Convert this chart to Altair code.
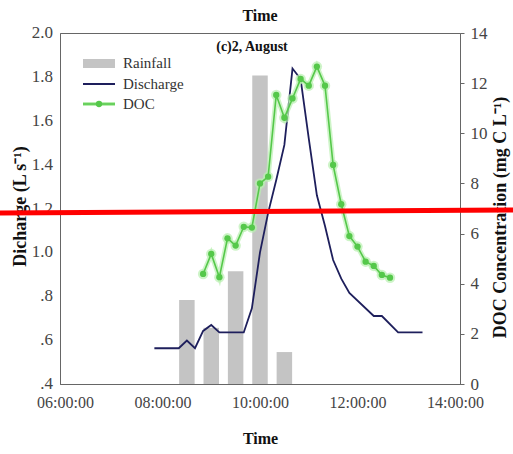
import altair as alt
import pandas as pd

DAY = "2020-08-01T"

# Discharge (L s-1)
q_times = ["07:50", "08:20", "08:30", "08:40", "08:50", "09:00", "09:10", "09:40",
           "09:50", "10:00", "10:10", "10:20", "10:30", "10:40", "10:50", "11:00",
           "11:10", "11:20", "11:30", "11:40", "11:50", "12:20", "12:30", "12:50", "13:20"]
q_vals = [0.563, 0.563, 0.598, 0.563, 0.642, 0.669, 0.635, 0.635,
          0.745, 1.00, 1.18, 1.33, 1.49, 1.838, 1.79, 1.52,
          1.26, 1.12, 0.965, 0.88, 0.815, 0.71, 0.71, 0.635, 0.635]

# DOC concentration (mg C L-1)
doc_times = ["08:50", "09:00", "09:10", "09:20", "09:30", "09:40", "09:50", "10:00",
             "10:10", "10:20", "10:30", "10:40", "10:50", "11:00", "11:10", "11:20",
             "11:30", "11:40", "11:50", "12:00", "12:10", "12:20", "12:30", "12:40"]
doc_vals = [4.39, 5.19, 4.26, 5.81, 5.52, 6.27, 6.24, 8.0,
            8.27, 11.53, 10.62, 11.39, 12.17, 11.9, 12.66, 11.9,
            8.74, 7.17, 5.9, 5.48, 4.88, 4.71, 4.35, 4.24]

# Rainfall (mm, hidden axis)
rain_times = ["08:30", "09:00", "09:30", "10:00", "10:30"]
rain_vals = [2.39, 1.6, 3.21, 8.79, 0.91]

x_tick_hours = [6, 8, 10, 12, 14]
left_ticks = [0.4, 0.6, 0.8, 1.0, 1.2, 1.4, 1.6, 1.8, 2.0]
left_tick_labels = [".4", ".6", ".8", "1.0", "1.2", "1.4", "1.6", "1.8", "2.0"]
right_ticks = [0, 2, 4, 6, 8, 10, 12, 14]
legend_labels = ["Rainfall", "Discharge", "DOC"]
panel_label = "(c)2, August"
x_title = "Time"
left_title = "Dicharge (L s\u207b\u00b9)"
right_title = "DOC Concentration (mg C L\u207b\u00b9)"

FONT = "Liberation Serif"
NAVY = "#1e1f5c"
GREEN = "#55c84a"
HALO = "#b9efb0"
GRAY = "#c4c4c4"

q_df = pd.DataFrame({"t": [DAY + s + ":00" for s in q_times], "q": q_vals})
doc_df = pd.DataFrame({"t": [DAY + s + ":00" for s in doc_times], "doc": doc_vals})
rain_df = pd.DataFrame({"t": [DAY + s + ":00" for s in rain_times], "rain": rain_vals})
ltick_df = pd.DataFrame({"v": left_ticks, "lab": left_tick_labels})

xscale = alt.Scale(domain=[alt.DateTime(year=2020, month=8, date=1, hours=x_tick_hours[0]),
                           alt.DateTime(year=2020, month=8, date=1, hours=x_tick_hours[-1])])
xaxis = alt.Axis(format="%H:%M:%S",
                 values=[alt.DateTime(year=2020, month=8, date=1, hours=h) for h in x_tick_hours],
                 title=x_title, titleFont=FONT, titleFontSize=16, titleFontWeight="bold",
                 titleY=54, titleBaseline="middle", titleColor="#111",
                 labelFont=FONT, labelFontSize=16, labelColor="#444", labelPadding=10,
                 ticks=False, grid=False, domainColor="#666", labelFlush=False)
X = alt.X("t:T", scale=xscale, axis=xaxis)

rain = alt.Chart(rain_df).mark_bar(size=15.5, color=GRAY).encode(
    x=X,
    y=alt.Y("rain:Q", scale=alt.Scale(domain=[0, 10]), axis=None),
)

q_scale = alt.Scale(domain=[left_ticks[0], left_ticks[-1]])
discharge = alt.Chart(q_df).mark_line(color=NAVY, strokeWidth=1.8).encode(
    x=X,
    y=alt.Y("q:Q", scale=q_scale,
            axis=alt.Axis(orient="left", values=left_ticks, grid=False, ticks=False,
                          labels=False, domainColor="#666", title=left_title, titleFont=FONT,
                          titleFontSize=18, titleFontWeight="bold", titleColor="#111",
                          titleAngle=270, titleX=-40, titleY=173, titleAlign="center",
                          titleBaseline="middle")),
)
left_labels = alt.Chart(ltick_df).mark_text(font=FONT, fontSize=17, color="#444",
                                            align="right", baseline="middle").encode(
    x=alt.value(-7), y=alt.Y("v:Q", scale=q_scale, axis=None), text="lab:N")

doc_scale = alt.Scale(domain=[right_ticks[0], right_ticks[-1]])
doc_halo = alt.Chart(doc_df).mark_line(color=HALO, strokeWidth=5, opacity=0.7).encode(
    x=X, y=alt.Y("doc:Q", scale=doc_scale, axis=None))
doc_line = alt.Chart(doc_df).mark_line(color=GREEN, strokeWidth=1.6).encode(
    x=X,
    y=alt.Y("doc:Q", scale=doc_scale,
            axis=alt.Axis(orient="right", values=right_ticks, grid=False, ticks=True,
                          tickSize=4, tickColor="#666", domainColor="#666",
                          labelFont=FONT, labelFontSize=17, labelColor="#444", labelPadding=6,
                          title=right_title, titleFont=FONT, titleFontSize=18,
                          titleFontWeight="bold", titleColor="#111", titleAngle=270,
                          titleX=40, titleY=184, titleAlign="center", titleBaseline="middle")),
)
doc_pts_halo = alt.Chart(doc_df).mark_circle(color=HALO, size=110, opacity=0.7).encode(
    x=X, y=alt.Y("doc:Q", scale=doc_scale, axis=None))
doc_pts = alt.Chart(doc_df).mark_circle(color=GREEN, size=40, opacity=1).encode(
    x=X, y=alt.Y("doc:Q", scale=doc_scale, axis=None))

# Legend (manual, inside top-left)
lg0 = pd.DataFrame({"label": [legend_labels[0]]})
lg1 = pd.DataFrame({"label": [legend_labels[1]]})
lg2 = pd.DataFrame({"label": [legend_labels[2]]})
leg_rect = alt.Chart(lg0).mark_rect(color=GRAY).encode(
    x=alt.value(23), x2=alt.value(55), y=alt.value(26), y2=alt.value(35))
leg_q = alt.Chart(lg1).mark_rule(color=NAVY, strokeWidth=2).encode(
    x=alt.value(23), x2=alt.value(55), y=alt.value(51))
leg_doc_halo = alt.Chart(lg2).mark_rule(color=HALO, strokeWidth=4).encode(
    x=alt.value(23), x2=alt.value(55), y=alt.value(71))
leg_doc = alt.Chart(lg2).mark_rule(color=GREEN, strokeWidth=1.6).encode(
    x=alt.value(23), x2=alt.value(55), y=alt.value(71))
leg_doc_pt = alt.Chart(lg2).mark_circle(color=GREEN, size=40, opacity=1).encode(
    x=alt.value(39), y=alt.value(71))
text_style = dict(font=FONT, fontSize=15, color="#333", align="left", baseline="middle")
leg_t0 = alt.Chart(lg0).mark_text(**text_style).encode(x=alt.value(63), y=alt.value(30), text="label:N")
leg_t1 = alt.Chart(lg1).mark_text(**text_style).encode(x=alt.value(63), y=alt.value(51), text="label:N")
leg_t2 = alt.Chart(lg2).mark_text(**text_style).encode(x=alt.value(63), y=alt.value(71), text="label:N")

ann_df = pd.DataFrame({"label": [panel_label], "top": [x_title]})
panel = alt.Chart(ann_df).mark_text(font=FONT, fontSize=14, fontWeight="bold", color="#111",
                                    align="center", baseline="middle").encode(
    x=alt.value(192), y=alt.value(14), text="label:N")
top_title = alt.Chart(ann_df).mark_text(font=FONT, fontSize=16, fontWeight="bold", color="#111",
                                        align="center", baseline="middle").encode(
    x=alt.value(200), y=alt.value(-17), text="top:N")

red = alt.Chart(ann_df).mark_rule(color="#ff0000", strokeWidth=5).encode(
    x=alt.value(-60), x2=alt.value(453), y=alt.value(180), y2=alt.value(177))

chart = alt.layer(
    rain, discharge, left_labels, doc_halo, doc_pts_halo, doc_line, doc_pts,
    leg_rect, leg_q, leg_doc_halo, leg_doc, leg_doc_pt, leg_t0, leg_t1, leg_t2,
    panel, top_title, red,
).resolve_scale(y="independent").properties(
    width=400, height=351,
    autosize=alt.AutoSizeParams(type="none"),
    padding={"left": 60, "top": 33, "right": 53, "bottom": 70},
    background="white",
).configure_view(stroke="#666", strokeWidth=1)

chart.save("out.html", embed_options={"renderer": "svg", "actions": False})
